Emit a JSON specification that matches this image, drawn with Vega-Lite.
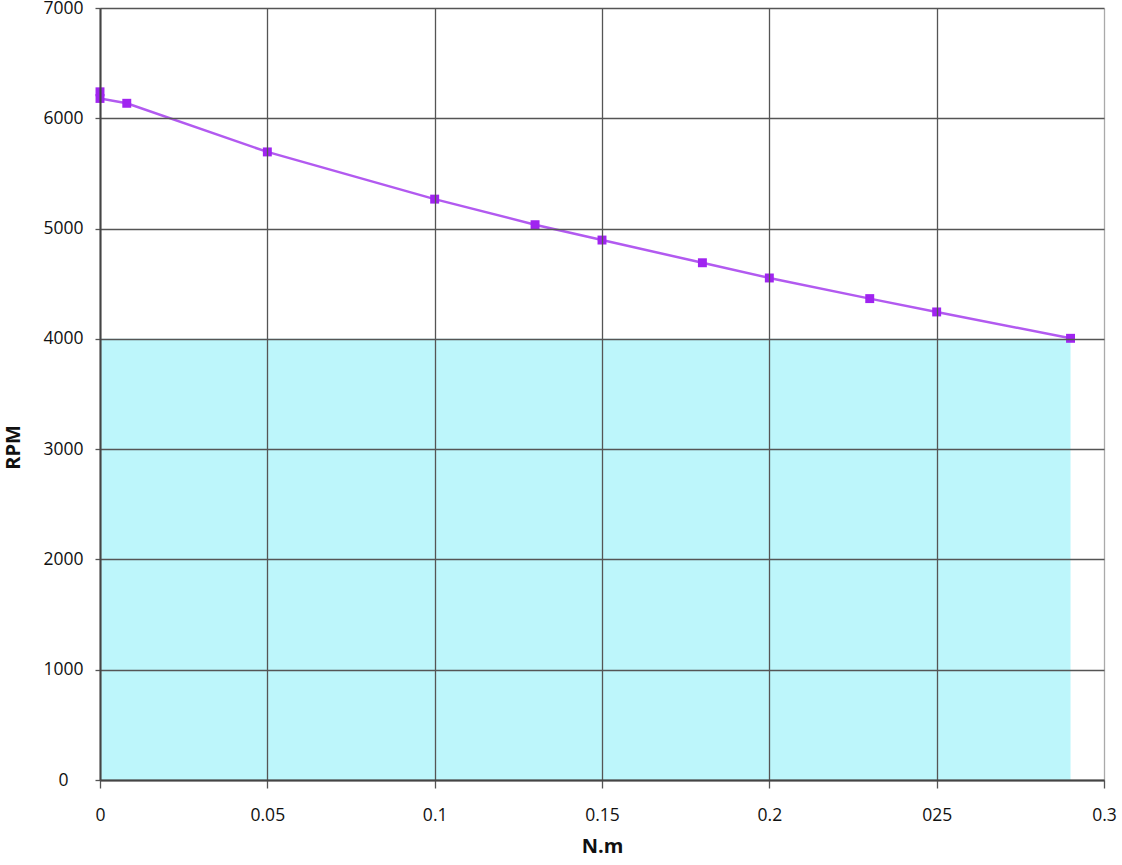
{
  "$schema": "https://vega.github.io/schema/vega-lite/v6.json",
  "autosize": "none",
  "width": 1004,
  "height": 772,
  "padding": {"left": 100, "top": 8, "right": 18, "bottom": 85},
  "background": "white",
  "config": {
    "view": {"stroke": null},
    "font": "Open Sans",
    "axis": {
      "labelFont": "Open Sans",
      "labelFontSize": 17.5,
      "labelColor": "#111",
      "titleFont": "Open Sans",
      "titleFontSize": 20,
      "titleFontWeight": "bold",
      "titleColor": "#111",
      "gridColor": "#555",
      "gridWidth": 1.3,
      "gridOpacity": 1,
      "domainColor": "#444",
      "domainWidth": 2,
      "tickColor": "#555",
      "tickWidth": 1.3,
      "tickSize": 8
    }
  },
  "datasets": {
    "curve": [
      {"torque": 0, "rpm": 6240},
      {"torque": 0, "rpm": 6180},
      {"torque": 0.008, "rpm": 6136},
      {"torque": 0.05, "rpm": 5695},
      {"torque": 0.1, "rpm": 5267},
      {"torque": 0.13, "rpm": 5035},
      {"torque": 0.15, "rpm": 4896},
      {"torque": 0.18, "rpm": 4690},
      {"torque": 0.2, "rpm": 4552},
      {"torque": 0.23, "rpm": 4365},
      {"torque": 0.25, "rpm": 4244},
      {"torque": 0.29, "rpm": 4005}
    ],
    "zone": [
      {"t1": 0, "t2": 0.29, "r1": 0, "r2": 4000}
    ]
  },
  "layer": [
    {
      "data": {"name": "zone"},
      "mark": {"type": "rect", "color": "#bdf6fb"},
      "encoding": {
        "x": {"field": "t1", "type": "quantitative",
          "scale": {"domain": [0, 0.3], "nice": false, "zero": false},
          "axis": {
            "title": "N.m",
            "zindex": 1,
            "values": [0, 0.05, 0.1, 0.15, 0.2, 0.25, 0.3],
            "labelExpr": "datum.value == 0.25 ? '025' : format(datum.value, '.2~f')",
            "labelPadding": 18,
            "labelFlush": false,
            "titlePadding": 13,
            "gridColor": {"condition": {"test": "datum.value == 0.3", "value": "#aaa"}, "value": "#555"}
          }
        },
        "x2": {"field": "t2"},
        "y": {"field": "r1", "type": "quantitative",
          "scale": {"domain": [0, 7000], "nice": false},
          "axis": {
            "title": "RPM",
            "zindex": 1,
            "values": [0, 1000, 2000, 3000, 4000, 5000, 6000, 7000],
            "format": "d",
            "labelAlign": "center",
            "labelBaseline": "middle",
            "labelPadding": 32,
            "labelFlush": false,
            "tickSize": 5,
            "titleAngle": -90,
            "titleAlign": "center",
            "titleBaseline": "middle",
            "titleX": -87,
            "titleY": 439
          }
        },
        "y2": {"field": "r2"}
      }
    },
    {
      "data": {"name": "curve"},
      "mark": {"type": "line", "color": "#b25af0", "strokeWidth": 2.5},
      "encoding": {
        "x": {"field": "torque", "type": "quantitative"},
        "y": {"field": "rpm", "type": "quantitative"}
      }
    },
    {
      "data": {"name": "curve"},
      "mark": {"type": "point", "shape": "square", "filled": true, "color": "#a024f0", "size": 80, "opacity": 1},
      "encoding": {
        "x": {"field": "torque", "type": "quantitative"},
        "y": {"field": "rpm", "type": "quantitative"}
      }
    }
  ]
}
